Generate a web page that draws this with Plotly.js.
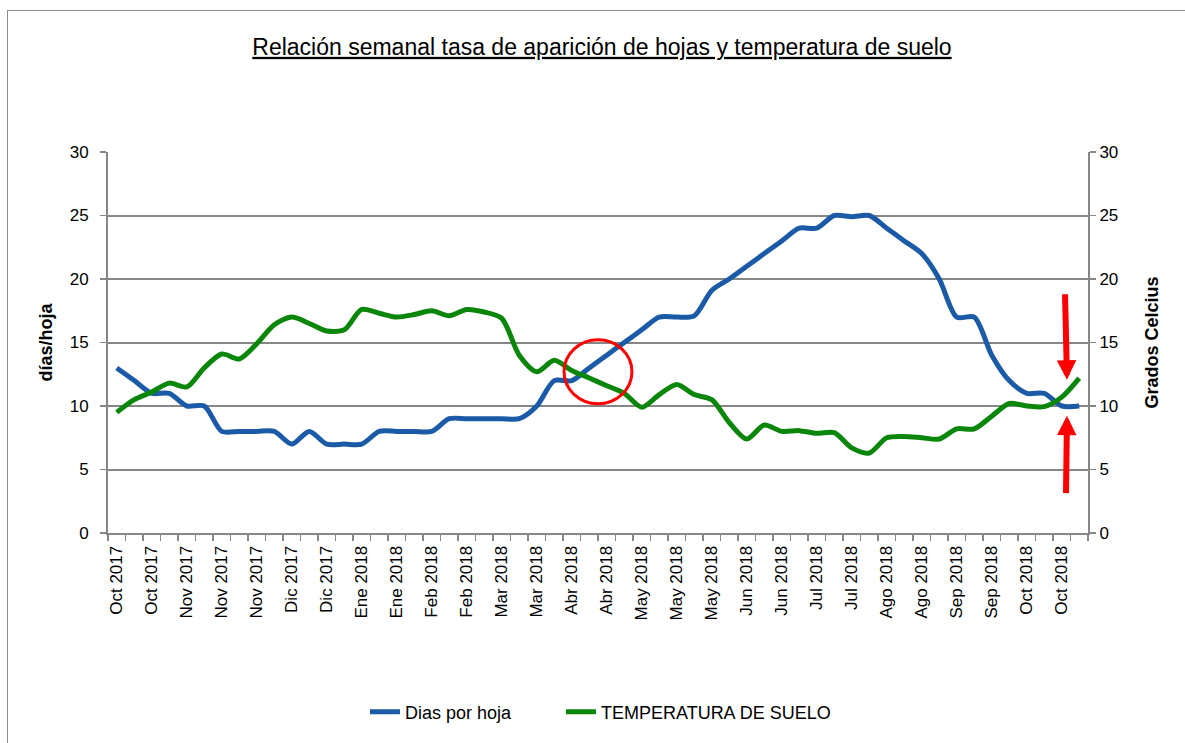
<!DOCTYPE html>
<html>
<head>
<meta charset="utf-8">
<script src="https://cdn.plot.ly/plotly-3.0.1.min.js"></script>
<style>
  html, body { margin: 0; padding: 0; background: #fff; }
  #wrap { position: relative; width: 1185px; height: 743px; overflow: hidden; }
  #chart { position: absolute; left: 0; top: 0; width: 1185px; height: 743px; }
  #frame { position: absolute; left: 7px; top: 10px; width: 1200px; height: 800px;
           border: 1.5px solid #8c8c8c; pointer-events: none; }
</style>
</head>
<body>
<div id="wrap">
  <div id="chart"></div>
  <div id="frame"></div>
</div>
<script>
// Weekly values (one per week, 56 weeks)
const diasPorHoja = [13,12,11,11,10,10,8,8,8,8,7,
                     8,7,7,7,8,8,8,8,9,9,9,
                     9,9,10,12,12,13,14,15,16,17,17,17.1,
                     19.1,20,21,22,23,24,24,25,24.9,25,24,
                     23,22,20,17,17,14,12,11,11,10,10];
const temperaturaSuelo = [9.5,10.5,11.1,11.8,11.5,13,14.1,13.7,14.9,16.4,17,
                          16.5,15.9,16,17.6,17.3,17,17.2,17.5,17.1,17.6,17.4,
                          16.9,14,12.7,13.6,12.8,12.2,11.6,11,9.9,10.9,11.7,10.9,
                          10.5,8.7,7.4,8.5,8,8.06,7.85,7.9,6.7,6.3,7.5,
                          7.6,7.5,7.4,8.2,8.2,9.2,10.2,10,9.95,10.7,12.2];
// Tick labels (every second week)
const tickLabels = ["Oct 2017","Oct 2017","Nov 2017","Nov 2017","Nov 2017","Dic 2017","Dic 2017",
                    "Ene 2018","Ene 2018","Feb 2018","Feb 2018","Mar 2018","Mar 2018","Abr 2018",
                    "Abr 2018","May 2018","May 2018","May 2018","Jun 2018","Jun 2018","Jul 2018",
                    "Jul 2018","Ago 2018","Ago 2018","Sep 2018","Sep 2018","Oct 2018","Oct 2018"];

const weeks = diasPorHoja.map((_, i) => i);
const tickVals = tickLabels.map((_, i) => i * 2);

const FONT = "Liberation Sans, Arial, sans-serif";
const GRID = "#868686";

const traces = [
  { x: weeks, y: diasPorHoja, name: "Dias por hoja", type: "scatter", mode: "lines",
    line: { color: "#1a5aa6", width: 5, shape: "spline", smoothing: 0.8 }, yaxis: "y",
    legend: "legend" },
  { x: weeks, y: temperaturaSuelo, name: "TEMPERATURA DE SUELO", type: "scatter", mode: "lines",
    line: { color: "#0a860a", width: 5, shape: "spline", smoothing: 0.8 }, yaxis: "y2",
    legend: "legend2" }
];

const legendBase = { orientation: "h", xanchor: "left", y: -0.47, yanchor: "middle",
                     font: { family: FONT, size: 18, color: "#000" }, bgcolor: "rgba(0,0,0,0)" };

const layout = {
  width: 1185, height: 743,
  margin: { l: 108, r: 97, t: 152, b: 210 },
  paper_bgcolor: "#ffffff", plot_bgcolor: "#ffffff",
  font: { family: FONT, size: 17, color: "#000" },
  title: { text: "<u>Relación semanal tasa de aparición de hojas y temperatura de suelo</u>",
           font: { family: FONT, size: 23, color: "#000" },
           x: 0.508, xanchor: "center", y: 0.937, yanchor: "middle", yref: "container" },
  showlegend: true,
  legend: Object.assign({}, legendBase, { x: 0.2622 }),
  legend2: Object.assign({}, legendBase, { x: 0.4622 }),
  xaxis: {
    range: [-0.5, 55.5], tickmode: "array", tickvals: tickVals, ticktext: tickLabels,
    tickangle: -90, ticks: "", showgrid: false, zeroline: false,
    showline: true, linecolor: GRID, linewidth: 2, ticklabelstandoff: 4,
    tickfont: { family: FONT, size: 17, color: "#000" },
    minor: { tickmode: "linear", tick0: -0.5, dtick: 1, ticks: "outside", ticklen: 6,
             tickcolor: GRID, tickwidth: 1.5, showgrid: false },
    fixedrange: true
  },
  yaxis: {
    range: [0, 30], tickmode: "linear", tick0: 0, dtick: 5,
    showgrid: true, gridcolor: GRID, gridwidth: 2, zeroline: false,
    showline: true, linecolor: GRID, linewidth: 2,
    ticks: "outside", ticklen: 6, tickcolor: GRID, tickwidth: 1.5, ticklabelstandoff: 8,
    tickfont: { family: FONT, size: 17, color: "#000" },
    title: { text: "<b>días/hoja</b>", font: { family: FONT, size: 18, color: "#000" }, standoff: 12 }
  },
  yaxis2: {
    range: [0, 30], tickmode: "linear", tick0: 0, dtick: 5, overlaying: "y", side: "right",
    showgrid: false, zeroline: false,
    showline: true, linecolor: GRID, linewidth: 2,
    ticks: "outside", ticklen: 6, tickcolor: GRID, tickwidth: 1.5,
    tickfont: { family: FONT, size: 17, color: "#000" },
    title: { text: "<b>Grados Celcius</b>", font: { family: FONT, size: 18, color: "#000" }, standoff: 28 }
  },
  shapes: [
    { type: "circle", xref: "x", yref: "y", x0: 25.56, x1: 29.44, y0: 10.18, y1: 15.22,
      line: { color: "#ff0000", width: 3 }, fillcolor: "rgba(0,0,0,0)", layer: "above" }
  ],
  annotations: [
    { x: 54.3, y: 12.07, xref: "x", yref: "y", ax: -2, ay: -87, text: "", showarrow: true,
      arrowhead: 2, arrowsize: 0.65, arrowwidth: 6, arrowcolor: "#ff0000" },
    { x: 54.3, y: 9.24, xref: "x", yref: "y", ax: -1, ay: 79, text: "", showarrow: true,
      arrowhead: 2, arrowsize: 0.65, arrowwidth: 6, arrowcolor: "#ff0000" }
  ]
};

Plotly.newPlot("chart", traces, layout, { displayModeBar: false, staticPlot: true });
</script>
</body>
</html>
